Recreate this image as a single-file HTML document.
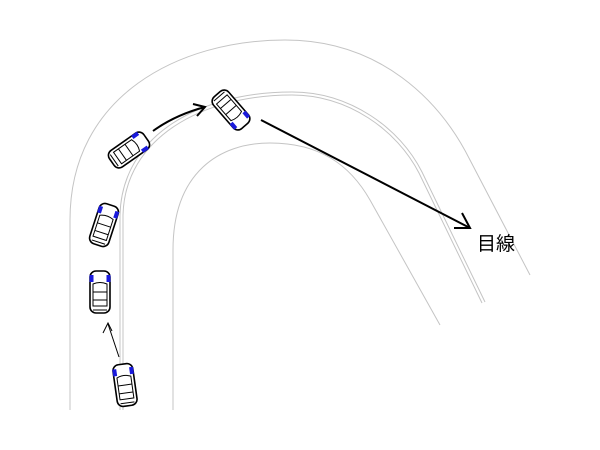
<!DOCTYPE html>
<html><head><meta charset="utf-8"><style>body{margin:0;background:#fff}svg{display:block}</style></head><body>
<svg width="600" height="450" viewBox="0 0 600 450" xmlns="http://www.w3.org/2000/svg">
<defs>
<g id="car">
<rect x="-10" y="-21" width="20" height="42" rx="6" fill="#fff" stroke="#000" stroke-width="1.6"/>
<rect x="-10.5" y="-17" width="4" height="7" fill="#1a1adc"/>
<rect x="6.5" y="-17" width="4" height="7" fill="#1a1adc"/>
<path d="M-7,-8 Q0,-11 7,-8 L7,14 L-7,14 Z" fill="none" stroke="#000" stroke-width="1"/>
<line x1="-7" y1="0" x2="7" y2="0" stroke="#000" stroke-width="1"/>
<line x1="-7" y1="8" x2="7" y2="8" stroke="#000" stroke-width="1"/>
<line x1="-7" y1="18" x2="7" y2="18" stroke="#000" stroke-width="1"/>
</g>
</defs>
<g fill="none" stroke="#c4c4c4" stroke-width="1">
<path d="M70,410 L70,220 C70,95 180,40 285,40 C380,40 440,100 470,160 L530,275"/>
<path d="M173,410 L173,250 C173,172 220,143 270,143 C320,143 350,165 370,200 L440,325"/>
<path d="M120,410 L120,215 C122,135 200,92 292,92 C350,92 400,128 422,172 L485,302"/>
<path d="M123,410 L123,215 C125,138 202,95 292,95 C348,95 397,130 419,173 L482,303"/>
</g>
<use href="#car" transform="translate(125,385) rotate(-8)"/>
<use href="#car" transform="translate(100,292)"/>
<use href="#car" transform="translate(104,225) rotate(18)"/>
<use href="#car" transform="translate(129,150) rotate(55)"/>
<use href="#car" transform="translate(231,110) rotate(139)"/>
<g stroke="#000" fill="none">
<line x1="119" y1="357" x2="108" y2="324" stroke-width="1"/>
<path d="M103,333 L108,323 L112,331" stroke-width="1"/>
<path d="M153,131 Q175,115 205,107" stroke-width="2"/>
<path d="M193,104 L205,107 L197,116" stroke-width="2"/>
<line x1="261" y1="120" x2="470" y2="228" stroke-width="2"/>
<path d="M454,228 L470,228 L462,213" stroke-width="2"/>
</g>
<text x="477" y="250" font-family="'Liberation Sans','Noto Sans CJK JP',sans-serif" font-size="19" fill="#000">目線</text>
</svg>
</body></html>
